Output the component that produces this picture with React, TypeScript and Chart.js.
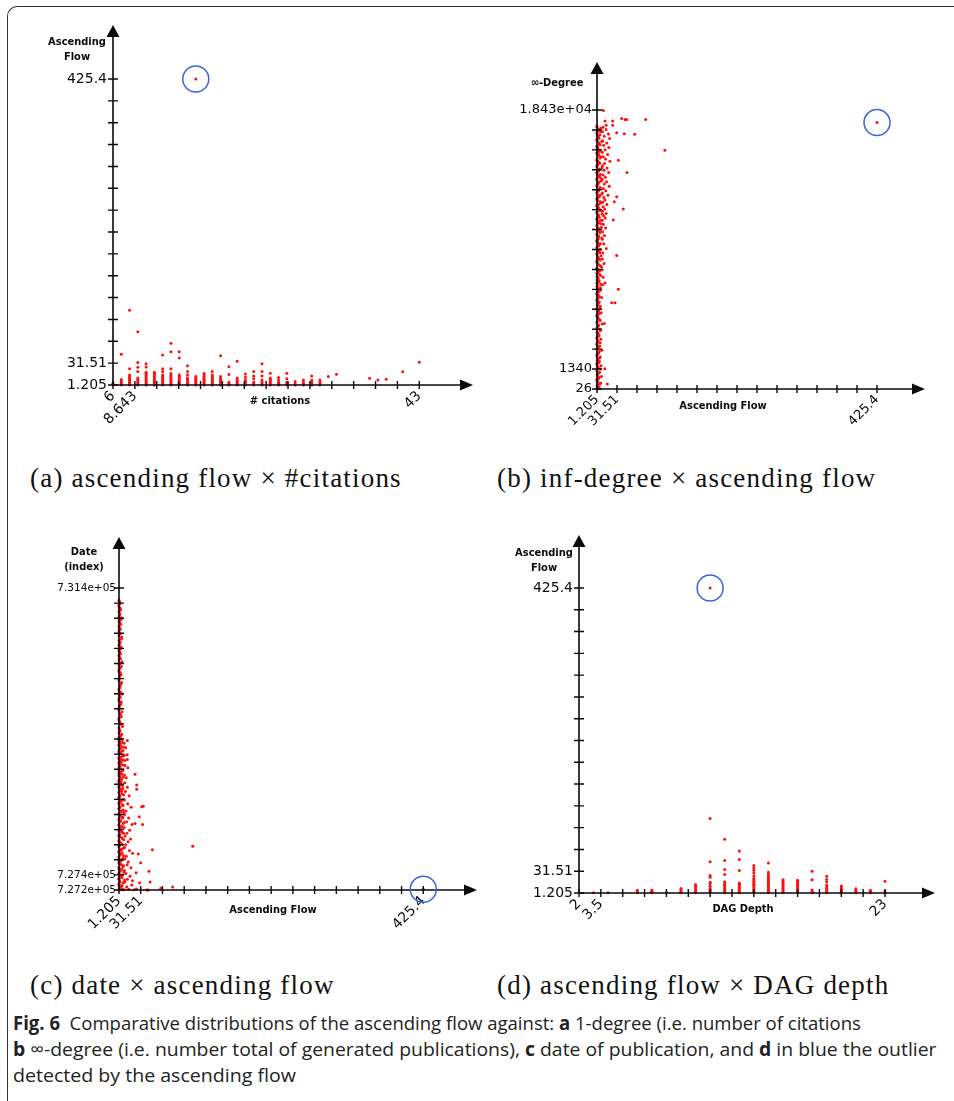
import { useEffect, useRef } from 'react';
import { Chart, registerables } from 'chart.js';

Chart.register(...registerables);

type Pt = [number, number];

// ---------------- Panel (a): ascending flow × #citations ----------------
const citationColumns: [number, number[]][] = [
  [6, [1.2, 2.5, 4]],
  [7, [1.2, 3, 5, 7, 9, 44]],
  [8, [1.2, 3, 5, 7, 9, 11, 13, 15, 23.6, 105]],
  [9, [1.2, 3, 5, 7, 9, 11, 19.8, 25.9, 32.4, 75]],
  [10, [1.2, 3, 5, 7, 9, 11, 13, 15, 17, 19, 26, 30.6]],
  [11, [1.2, 3, 5, 7, 9, 11, 13, 15, 17, 19]],
  [12, [1.2, 3, 5, 7, 9, 11, 13, 15, 19.8, 23.6, 42.7]],
  [13, [1.2, 3, 5, 7, 9, 11, 13, 15, 17, 23.6, 47.3, 59]],
  [14, [1.2, 3, 5, 7, 9, 11, 13, 15, 38.5, 47.3]],
  [15, [1.2, 3, 5, 7, 9, 11, 15.2, 19.8, 27.8]],
  [16, [1.2, 3, 5, 7, 9, 11, 13]],
  [17, [1.2, 3, 5, 7, 9, 11, 13, 15, 17]],
  [18, [1.2, 3, 5, 7, 9, 11, 13, 15.2, 19.8]],
  [19, [1.2, 3, 5, 7, 9, 11, 13, 41.8]],
  [20, [1.2, 3, 5, 15.7, 26.4]],
  [21, [1.2, 3, 5, 7, 9, 11, 34.3]],
  [22, [1.2, 3, 5, 8.2, 12, 16.6]],
  [23, [1.2, 3, 5, 10, 13.8, 19.8]],
  [24, [1.2, 3, 5, 8, 13.8, 19.8, 30.6]],
  [25, [1.2, 3, 5, 7, 9, 11, 17.5]],
  [26, [1.2, 3, 5, 8, 11.5]],
  [27, [1.2, 3, 5, 10, 17.5]],
  [28, [1.2, 3, 5.9]],
  [29, [1.2, 3, 5, 8.2]],
  [30, [1.2, 3, 5, 8, 13.8]],
  [31, [1.2, 3, 5, 8.2]],
  [32, [12.9]],
  [33, [16.1]],
  [37, [10.5]],
  [38, [8.2]],
  [39, [9.1]],
  [41, [19.4]],
  [43, [32.9]],
];
const outlierA: Pt = [16, 425.4];
const citationTickLabels = ['6', '8.643', '43'];
const flowTickLabelsA = ['1.205', '31.51', '425.4'];

// ---------------- Panel (b): inf-degree × ascending flow ----------------
const infDegreeCore: Pt[] = [
  [1.2, 26], [4.5, 150], [2.0, 300], [6.8, 420], [1.2, 560], [3.4, 700], [8.1, 850], [1.6, 1000], [5.2, 1130], [1.2, 1280],
  [3.0, 1420], [7.3, 1560], [1.2, 1700], [4.8, 1850], [2.3, 2000], [6.1, 2140], [1.2, 2290], [3.7, 2430], [8.6, 2580], [1.5, 2720],
  [5.5, 2870], [1.2, 3010], [2.9, 3160], [7.0, 3300], [1.2, 3450], [4.2, 3600], [2.1, 3740], [6.4, 3890], [1.2, 4030], [3.5, 4180],
  [8.9, 4320], [1.4, 4470], [5.0, 4610], [2.6, 4760], [1.2, 4900], [7.6, 5050], [3.9, 5190], [1.2, 5340], [6.0, 5480], [2.2, 5630],
  [4.6, 5770], [1.2, 5920], [8.3, 6060], [3.1, 6210], [1.2, 6350], [5.7, 6500], [2.4, 6640], [1.2, 6790], [7.1, 6930], [4.0, 7080],
  [1.2, 7220], [2.8, 7370], [6.6, 7510], [1.3, 7660], [4.9, 7800], [1.2, 7950], [8.0, 8090], [3.3, 8240], [1.2, 8380], [5.8, 8530],
  [2.0, 8670], [7.4, 8820], [1.2, 8960], [3.8, 9110], [6.2, 9250], [1.2, 9400], [4.4, 9540], [2.5, 9690], [1.2, 9830], [8.5, 9980],
  [3.6, 10120], [1.2, 10270], [5.3, 10410], [2.2, 10560], [7.8, 10700], [1.2, 10850], [4.1, 10990], [6.5, 11140], [1.2, 11280], [2.9, 11430],
  [8.7, 11570], [1.2, 11720], [5.1, 11860], [3.2, 12010], [1.2, 12150], [6.9, 12300], [2.4, 12440], [1.2, 12590], [4.7, 12730], [8.2, 12880],
  [1.2, 13020], [3.5, 13170], [5.9, 13310], [1.2, 13460], [2.7, 13600], [7.5, 13750], [1.2, 13890], [4.3, 14040], [6.3, 14180], [1.2, 14330],
  [3.0, 14470], [8.8, 14620], [1.2, 14760], [5.4, 14910], [2.3, 15050], [1.2, 15200], [7.2, 15340], [3.9, 15490], [1.2, 15630], [6.0, 15780],
  [2.6, 15920], [1.2, 16070], [4.8, 16210], [8.4, 16360], [1.2, 16500], [3.3, 16650], [5.6, 16790], [1.2, 16940], [2.1, 17080], [7.0, 17230],
  [1.2, 17370],
];
const infDegreeCore2: Pt[] = [
  [2.8, 90], [1.2, 230], [5.6, 370], [2.2, 490], [1.2, 630], [4.4, 780], [1.9, 920], [3.2, 1060], [1.2, 1210], [6.2, 1350],
  [2.5, 1490], [1.2, 1630], [3.9, 1780], [1.7, 1920], [5.0, 2070], [1.2, 2210], [2.9, 2360], [4.7, 2500], [1.2, 2650], [3.6, 2790],
  [1.2, 2940], [5.9, 3080], [2.0, 3230], [1.2, 3380], [4.1, 3520], [2.7, 3670], [1.2, 3810], [5.3, 3960], [1.8, 4100], [3.4, 4250],
  [1.2, 4390], [6.0, 4540], [2.4, 4680], [1.2, 4830], [4.5, 4970], [3.0, 5120], [1.2, 5260], [5.7, 5410], [1.6, 5550], [3.7, 5700],
  [1.2, 5840], [2.6, 5990], [4.9, 6130], [1.2, 6280], [3.3, 6420], [1.2, 6570], [6.4, 6710], [2.1, 6860], [1.2, 7000], [4.3, 7150],
  [2.9, 7290], [1.2, 7440], [5.2, 7580], [1.7, 7730], [3.5, 7870], [1.2, 8020], [6.1, 8160], [2.3, 8310], [1.2, 8450], [4.6, 8600],
  [3.1, 8740], [1.2, 8890], [5.5, 9030], [1.9, 9180], [1.2, 9320], [3.8, 9470], [6.3, 9610], [1.2, 9760], [2.7, 9900], [4.2, 10050],
  [1.2, 10190], [5.8, 10340], [1.5, 10480], [3.2, 10630], [1.2, 10770], [6.6, 10920], [2.4, 11060], [1.2, 11210], [4.5, 11350], [3.6, 11500],
  [1.2, 11640], [5.4, 11790], [2.0, 11930], [1.2, 12080], [3.9, 12220], [6.1, 12370], [1.2, 12510], [2.8, 12660], [4.8, 12800], [1.2, 12950],
  [3.3, 13090], [5.6, 13240], [1.2, 13380], [2.2, 13530], [4.0, 13670], [1.2, 13820], [6.5, 13960], [2.6, 14110], [1.2, 14250], [3.7, 14400],
  [5.1, 14540], [1.2, 14690], [2.1, 14830], [4.4, 14980], [1.2, 15120], [6.0, 15270], [3.0, 15410], [1.2, 15560], [4.9, 15700], [2.3, 15850],
  [1.2, 15990], [5.7, 16140], [3.4, 16280], [1.2, 16430], [4.1, 16570], [2.5, 16720], [1.2, 16860], [6.2, 17010], [3.6, 17150], [1.2, 17300],
];
const infDegreeSpread: Pt[] = [
  [10.2, 17300], [14.8, 17150], [9.4, 17000], [18.6, 16850], [12.1, 16700], [20.3, 16550], [9.8, 16400], [15.9, 16250], [11.3, 16100], [19.1, 15950],
  [13.4, 15800], [9.2, 15650], [17.2, 15500], [10.9, 15350], [14.1, 15200], [20.8, 15050], [12.7, 14900], [9.6, 14750], [16.4, 14600], [11.8, 14450],
  [18.9, 14300], [10.4, 14150], [13.9, 14000], [9.1, 13850], [15.6, 13700], [12.3, 13550], [19.7, 13400], [10.7, 13250], [14.5, 13100], [9.3, 12950],
  [17.8, 12800], [11.5, 12650], [13.2, 12500], [9.9, 12350], [16.1, 12200], [10.6, 12050], [12.9, 11900], [9.5, 11750], [15.0, 11600], [11.1, 11450],
  [13.7, 11300], [9.2, 11150], [10.8, 10900], [14.3, 10650], [9.7, 10400], [12.4, 10150], [9.3, 9900], [11.6, 9600], [15.2, 9300], [10.0, 9000],
  [9.4, 8600], [12.0, 8300], [9.1, 7900], [10.5, 7400], [9.6, 6900],
];
const infDegreeScattered: Pt[] = [
  [10.8, 18400], [13.3, 17700], [15.0, 17420], [25, 17700], [25, 17420], [38.6, 17870], [43.6, 17810], [46, 17810], [75, 17810],
  [31, 16930], [42.6, 16870], [58.3, 16830], [104, 15780], [33.5, 15120], [46.7, 14300], [31, 12700], [27.4, 12380], [41, 11900],
  [25.9, 11170], [31, 8830], [13.3, 7010], [33.5, 6600], [23.5, 5720], [28.5, 5720], [12.3, 4340], [13, 1360], [16.8, 355],
];
const outlierB: Pt = [425.4, 17600];
const flowTickLabelsB = ['1.205', '31.51', '425.4'];
const infDegreeTickLabels = ['26', '1340', '1.843e+04'];

// ---------------- Panel (c): date × ascending flow ----------------
const dateTop: Pt[] = [
  [1.2, 731230], [2.6, 731185], [1.2, 731140], [3.4, 731095], [1.9, 731050], [1.2, 731005], [4.1, 730960], [2.3, 730915], [1.2, 730870],
  [3.0, 730825], [1.6, 730780], [1.2, 730735], [4.6, 730690], [2.8, 730645], [1.2, 730600], [3.7, 730555], [2.0, 730510], [1.2, 730465],
  [3.2, 730420], [5.3, 730375], [1.4, 730330], [2.5, 730285], [1.2, 730240], [4.0, 730195], [1.8, 730150], [1.2, 730105], [3.5, 730060],
  [2.2, 730015], [1.2, 729970], [5.6, 729925], [2.9, 729880], [1.2, 729835], [3.9, 729790], [1.5, 729745], [1.2, 729700], [2.7, 729655],
  [4.4, 729610], [1.2, 729565], [3.1, 729520], [6.2, 729475], [1.9, 729430], [1.2, 729385], [3.6, 729340],
  [2.0, 731210], [1.2, 731165], [3.0, 731120], [1.2, 731075], [2.4, 731030], [4.6, 730985], [1.2, 730940], [3.6, 730895], [1.7, 730850],
  [1.2, 730805], [2.9, 730760], [5.0, 730715], [1.2, 730670], [2.2, 730625], [4.2, 730580], [1.2, 730535], [3.3, 730490], [1.6, 730445],
  [1.2, 730400], [2.7, 730355], [4.5, 730310], [1.2, 730265], [3.1, 730220], [2.0, 730175], [1.2, 730130], [4.8, 730085], [2.6, 730040],
  [1.2, 729995], [3.4, 729950], [1.8, 729905], [1.2, 729860], [4.3, 729815], [2.3, 729770], [1.2, 729725], [5.4, 729680], [3.2, 729635],
  [1.2, 729590], [2.1, 729545], [4.7, 729500], [1.2, 729455], [2.8, 729410], [5.1, 729365], [1.2, 729320],
];
const dateMiddle: Pt[] = [
  [1.2, 729300], [5.1, 729285], [2.4, 729260], [8.3, 729240], [1.2, 729220], [4.2, 729200], [10.6, 729180], [2.0, 729160], [6.7, 729140],
  [1.2, 729120], [3.3, 729100], [12.5, 729080], [5.6, 729060], [1.2, 729040], [2.8, 729020], [9.1, 729000], [4.5, 728980], [1.2, 728960],
  [7.4, 728940], [2.2, 728920], [13.5, 728900], [1.2, 728880], [5.9, 728860], [3.6, 728840], [1.2, 728820], [8.8, 728800], [2.5, 728780],
  [11.3, 728760], [4.8, 728740], [1.2, 728720],
  [3.1, 729310], [1.2, 729270], [6.3, 729250], [2.9, 729230], [1.2, 729210], [7.8, 729190], [3.8, 729170], [1.2, 729150], [5.2, 729130],
  [2.1, 729110], [1.2, 729090], [8.6, 729070], [3.0, 729050], [1.2, 729030], [6.1, 729010], [2.4, 728990], [1.2, 728970], [4.0, 728950],
  [9.6, 728930], [1.2, 728910], [3.3, 728890], [6.9, 728870], [1.2, 728850], [2.6, 728830], [5.0, 728810], [1.2, 728790], [7.2, 728770],
  [3.5, 728750], [1.2, 728730], [4.1, 728710],
];
const dateBottom: Pt[] = [
  [1.2, 728700], [3.5, 728675], [6.1, 728650], [1.2, 728625], [2.7, 728600], [4.9, 728575], [1.2, 728550], [7.6, 728525], [2.1, 728500],
  [1.2, 728475], [5.4, 728450], [3.0, 728425], [1.2, 728400], [6.8, 728375], [2.4, 728350], [1.2, 728325], [4.3, 728300], [7.9, 728275],
  [1.2, 728250], [3.2, 728225], [5.8, 728200], [1.2, 728175], [2.6, 728150], [7.1, 728125], [1.2, 728100], [4.6, 728075], [3.4, 728050],
  [1.2, 728025], [6.3, 728000], [2.2, 727975], [1.2, 727950], [5.1, 727925], [7.7, 727900], [1.2, 727875], [3.7, 727850], [2.0, 727825],
  [1.2, 727800], [6.0, 727775], [4.0, 727750], [1.2, 727725], [2.9, 727700], [7.3, 727675], [1.2, 727650], [5.5, 727625], [3.1, 727600],
  [1.2, 727575], [4.7, 727550], [6.6, 727525], [1.2, 727500], [2.5, 727475], [7.9, 727450], [1.2, 727425], [3.9, 727400], [5.2, 727375],
  [1.2, 727350], [2.3, 727325], [6.9, 727300], [1.2, 727275], [4.4, 727250], [3.0, 727225], [1.2, 727200], [5.8, 727210],
  [2.0, 728688], [4.3, 728662], [1.2, 728638], [6.7, 728612], [3.3, 728588], [1.2, 728562], [5.2, 728538], [2.5, 728512], [1.2, 728488],
  [8.1, 728462], [3.8, 728438], [1.2, 728412], [5.9, 728388], [2.2, 728362], [1.2, 728338], [7.0, 728312], [4.1, 728288], [1.2, 728262],
  [2.8, 728238], [6.4, 728212], [1.2, 728188], [3.6, 728162], [8.5, 728138], [1.2, 728112], [5.3, 728088], [2.3, 728062], [1.2, 728038],
  [4.5, 728012], [7.4, 727988], [1.2, 727962], [3.0, 727938], [6.2, 727912], [1.2, 727888], [2.5, 727862], [4.8, 727838], [1.2, 727812],
  [8.3, 727788], [3.4, 727762], [1.2, 727738], [5.6, 727712], [2.2, 727688], [1.2, 727662], [6.9, 727638], [4.2, 727612], [1.2, 727588],
  [3.1, 727562], [7.6, 727538], [1.2, 727512], [5.0, 727488], [2.6, 727462], [1.2, 727438], [6.5, 727412], [3.7, 727388], [1.2, 727362],
  [8.8, 727338], [2.4, 727312], [1.2, 727288], [5.4, 727262], [3.2, 727238], [1.2, 727212],
  [9.2, 728690], [12.8, 728630], [10.1, 728570], [15.4, 728510], [8.6, 728450], [13.3, 728400], [18.2, 728350], [10.9, 728300],
  [9.0, 728250], [14.6, 728200], [11.7, 728150], [19.3, 728110], [8.4, 728070], [16.1, 728030], [12.2, 727990], [9.8, 727950],
  [17.4, 727910], [13.9, 727870], [10.5, 727830], [8.9, 727790], [15.8, 727750], [20.2, 727710], [11.4, 727670], [9.3, 727630],
  [14.1, 727590], [12.6, 727550], [17.9, 727510], [8.7, 727470], [10.8, 727430], [16.5, 727390], [13.0, 727350], [9.6, 727310],
  [19.0, 727270], [11.9, 727240], [14.8, 727210], [8.2, 727205], [22.4, 727205], [25.6, 727215],
];
const dateScattered: Pt[] = [
  [12.8, 729280], [12.8, 729015], [23.5, 728810], [25.9, 728660], [25.9, 728600], [32.8, 728357], [35, 728365], [29.4, 728220],
  [23.5, 728125], [34, 728110], [104, 727810], [47.7, 727760], [28, 727700], [31.4, 727580], [43, 727460], [25, 727440],
  [44.5, 727310], [40, 727200], [42, 727200], [59.4, 727225], [76, 727240], [30, 727300], [20, 727330],
];
const outlierC: Pt = [425.4, 727210];
const flowTickLabelsC = ['1.205', '31.51', '425.4'];
const dateTickLabels = ['7.272e+05', '7.274e+05', '7.314e+05'];

// ---------------- Panel (d): ascending flow × DAG depth ----------------
const depthColumns: [number, number[]][] = [
  [3, [1.5]],
  [4, [1.5]],
  [6, [1.5, 3.5, 5]],
  [7, [1.5, 3.5, 5]],
  [8, [2]],
  [9, [1.5, 3.5, 5.5, 7.5]],
  [10, [1.5, 3.5, 5.5, 8, 10.5, 13]],
  [11, [1.5, 3.5, 5.5, 7.5, 10.5, 14, 16, 23, 25.4, 44.5, 104.7]],
  [12, [1.5, 3.5, 5.5, 7.5, 9.5, 11.5, 13.5, 15.5, 17, 26.8, 33.8, 46.4, 75.8]],
  [13, [1.5, 3.5, 5.5, 7.5, 9.5, 11.5, 13.5, 15, 32.4, 47.8, 59.5]],
  [14, [1.5, 3.5, 5.5, 7.5, 9.5, 11.5, 13.5, 15.5, 17.5, 19.5, 21.5, 25, 29, 33, 36, 39.4]],
  [15, [1.5, 3.5, 5.5, 7.5, 9.5, 11.5, 13.5, 15.5, 17.5, 19.5, 21.5, 24, 27, 30, 43.1]],
  [16, [1.5, 3.5, 5.5, 7.5, 9.5, 11.5, 13.5, 15.5, 17.5, 19.5]],
  [17, [1.5, 3.5, 5.5, 7.5, 9.5, 11.5, 13.5, 15.5, 17.5, 19]],
  [18, [1.5, 3.5, 5.5, 19.8, 31.5]],
  [19, [1.5, 3.5, 5.5, 7.5, 9.5, 12, 16.5, 20, 24.5]],
  [20, [1.5, 3.5, 5.5, 7.5, 9.5, 11]],
  [21, [1.5, 3.5, 5.5, 7]],
  [22, [1.5, 3.5, 5]],
  [23, [1.5, 4, 17.5]],
];
const outlierD: Pt = [11, 425.4];
const depthTickLabels = ['2', '3.5', '23'];
const flowTickLabelsD = ['1.205', '31.51', '425.4'];

// ---------------- layout / styling ----------------
interface AxisSpec {
  first: number; last: number; n: number; lastPx: number;
  labels: string[]; font: number; pad: number; title: string[]; titleAt: [number, number];
}
interface PanelSpec {
  box: [number, number, number, number];
  origin: [number, number];
  tip: [number, number];
  x: AxisSpec; y: AxisSpec;
  points: Pt[]; outlier: Pt;
}

const fromColumns = (cols: [number, number[]][]): Pt[] =>
  cols.flatMap(([c, ys]) => ys.map((v) => [c, v] as Pt));

const panels: PanelSpec[] = [
  {
    box: [10, 0, 475, 455], origin: [113, 385], tip: [473, 25],
    x: { first: 6, last: 43, n: 14, lastPx: 419.3, labels: citationTickLabels, font: 14, pad: 3, title: ['# citations'], titleAt: [280, 401] },
    y: { first: 1.205, last: 425.4, n: 14, lastPx: 79, labels: flowTickLabelsA, font: 14, pad: 6, title: ['Ascending', 'Flow'], titleAt: [77, 42] },
    points: fromColumns(citationColumns), outlier: outlierA,
  },
  {
    box: [490, 30, 455, 425], origin: [597, 389], tip: [925, 62],
    x: { first: 1.205, last: 425.4, n: 14, lastPx: 877, labels: flowTickLabelsB, font: 13, pad: 3, title: ['Ascending Flow'], titleAt: [723, 406] },
    y: { first: 26, last: 18430, n: 14, lastPx: 110, labels: infDegreeTickLabels, font: 13, pad: 5, title: ['∞-Degree'], titleAt: [557, 83] },
    points: [...infDegreeCore, ...infDegreeCore2, ...infDegreeSpread, ...infDegreeScattered], outlier: outlierB,
  },
  {
    box: [10, 505, 480, 445], origin: [119, 890], tip: [477, 537],
    x: { first: 1.205, last: 425.4, n: 14, lastPx: 423.3, labels: flowTickLabelsC, font: 14, pad: 3, title: ['Ascending Flow'], titleAt: [273, 910] },
    y: { first: 727200, last: 731400, n: 20, lastPx: 588, labels: dateTickLabels, font: 10.5, pad: 3, title: ['Date', '(index)'], titleAt: [84, 552] },
    points: [...dateTop, ...dateMiddle, ...dateBottom, ...dateScattered], outlier: outlierC,
  },
  {
    box: [490, 505, 462, 445], origin: [579, 893], tip: [935, 535],
    x: { first: 2, last: 23, n: 14, lastPx: 885, labels: depthTickLabels, font: 14, pad: 3, title: ['DAG Depth'], titleAt: [743, 909] },
    y: { first: 1.205, last: 425.4, n: 14, lastPx: 588, labels: flowTickLabelsD, font: 14, pad: 6, title: ['Ascending', 'Flow'], titleAt: [544, 553] },
    points: fromColumns(depthColumns), outlier: outlierD,
  },
];

const INK = '#0a0a0a';
const RED = '#ff1010';
const BLUE = '#3f63dc';
const TICK_FONT = '"DejaVu Sans", sans-serif';
const TITLE_FONT = 'bold 11px "DejaVu Sans Condensed", "DejaVu Sans", sans-serif';

function makeAxesPlugin(spec: PanelSpec) {
  return {
    id: 'mathAxes',
    afterDatasetsDraw(chart: any) {
      const { ctx, chartArea: ca } = chart;
      const xs = chart.scales.x;
      const ys = chart.scales.y;
      const ox = ca.left;
      const oy = ca.bottom;
      ctx.save();
      ctx.strokeStyle = INK;
      ctx.fillStyle = INK;
      ctx.lineWidth = 1.6;
      ctx.beginPath();
      ctx.moveTo(ox, oy);
      ctx.lineTo(ca.right - 8, oy);
      ctx.moveTo(ox, oy);
      ctx.lineTo(ox, ca.top + 8);
      ctx.stroke();
      // arrow heads
      ctx.beginPath();
      ctx.moveTo(ca.right, oy);
      ctx.lineTo(ca.right - 13, oy - 5.5);
      ctx.lineTo(ca.right - 13, oy + 5.5);
      ctx.closePath();
      ctx.fill();
      ctx.beginPath();
      ctx.moveTo(ox, ca.top);
      ctx.lineTo(ox - 6.5, ca.top + 12);
      ctx.lineTo(ox + 6.5, ca.top + 12);
      ctx.closePath();
      ctx.fill();
      // tick marks crossing the axes
      ctx.lineWidth = 1.4;
      ctx.beginPath();
      xs.ticks.forEach((t: any) => {
        const px = xs.getPixelForValue(t.value);
        ctx.moveTo(px, oy - 4);
        ctx.lineTo(px, oy + 4);
      });
      ys.ticks.forEach((t: any) => {
        const py = ys.getPixelForValue(t.value);
        ctx.moveTo(ox - 5, py);
        ctx.lineTo(ox + 5, py);
      });
      ctx.stroke();
      // outlier circle
      const cx = xs.getPixelForValue(spec.outlier[0]);
      const cy = ys.getPixelForValue(spec.outlier[1]);
      ctx.strokeStyle = BLUE;
      ctx.lineWidth = 1.5;
      ctx.beginPath();
      ctx.arc(cx, cy, 13, 0, Math.PI * 2);
      ctx.stroke();
      // axis titles
      ctx.fillStyle = INK;
      ctx.font = TITLE_FONT;
      ctx.textAlign = 'center';
      ctx.textBaseline = 'middle';
      const [bl, bt] = spec.box;
      spec.y.title.forEach((line, i) =>
        ctx.fillText(line, spec.y.titleAt[0] - bl, spec.y.titleAt[1] - bt + i * 15.5));
      spec.x.title.forEach((line, i) =>
        ctx.fillText(line, spec.x.titleAt[0] - bl, spec.x.titleAt[1] - bt + i * 15.5));
      ctx.restore();
    },
  };
}

function axisOptions(a: AxisSpec, originPx: number, tipPx: number, horizontal: boolean, spec: PanelSpec) {
  const step = (a.last - a.first) / a.n;
  const max = a.first + (a.last - a.first) * (tipPx - originPx) / (a.lastPx - originPx);
  const [bl, bt, , bh] = spec.box;
  return {
    type: 'linear' as const,
    position: horizontal ? ('bottom' as const) : ('left' as const),
    min: a.first,
    max,
    grid: { display: false, drawTicks: false, tickLength: 0 },
    border: { display: false },
    afterBuildTicks: (scale: any) => {
      scale.ticks = Array.from({ length: a.n + 1 }, (_, k) => ({ value: a.first + k * step }));
    },
    afterFit: (scale: any) => {
      if (horizontal) scale.height = bt + bh - spec.origin[1];
      else scale.width = spec.origin[0] - bl;
    },
    ticks: {
      autoSkip: false,
      minRotation: horizontal ? 45 : 0,
      maxRotation: horizontal ? 45 : 0,
      padding: a.pad,
      color: INK,
      font: { family: TICK_FONT, size: a.font },
      callback: (_v: any, i: number, arr: any[]) =>
        i === 0 ? a.labels[0] : i === 1 ? a.labels[1] : i === arr.length - 1 ? a.labels[2] : '',
    },
  };
}

function Panel({ spec }: { spec: PanelSpec }) {
  const ref = useRef<HTMLCanvasElement>(null);
  useEffect(() => {
    const [bl, bt, bw] = spec.box;
    const chart = new Chart(ref.current as HTMLCanvasElement, {
      type: 'scatter',
      data: {
        datasets: [
          {
            data: [...spec.points, spec.outlier].map(([x, y]) => ({ x, y })),
            backgroundColor: RED,
            borderWidth: 0,
            pointRadius: 1.5,
            pointHoverRadius: 1.5,
            clip: false as any,
          },
        ],
      },
      options: {
        animation: false,
        responsive: false,
        maintainAspectRatio: false,
        events: [],
        layout: {
          padding: {
            left: 0,
            bottom: 0,
            top: spec.tip[1] - bt,
            right: bl + bw - spec.tip[0],
          },
        },
        plugins: { legend: { display: false }, tooltip: { enabled: false } },
        scales: {
          x: axisOptions(spec.x, spec.origin[0], spec.tip[0], true, spec) as any,
          y: axisOptions(spec.y, spec.origin[1], spec.tip[1], false, spec) as any,
        },
      },
      plugins: [makeAxesPlugin(spec)],
    });
    return () => chart.destroy();
  }, [spec]);
  const [bl, bt, bw, bh] = spec.box;
  return (
    <canvas
      ref={ref}
      width={bw}
      height={bh}
      style={{ position: 'absolute', left: bl, top: bt, width: bw, height: bh }}
    />
  );
}

const subCaptions: { text: string; left: number; top: number }[] = [
  { text: '(a) ascending flow × #citations', left: 30, top: 462 },
  { text: '(b) inf-degree × ascending flow', left: 497, top: 462 },
  { text: '(c) date × ascending flow', left: 30, top: 969 },
  { text: '(d) ascending flow × DAG depth', left: 497, top: 969 },
];

export default function App() {
  const capLine: React.CSSProperties = {
    position: 'absolute',
    left: 13,
    whiteSpace: 'nowrap',
    fontFamily: '"Open Sans", sans-serif',
    fontSize: 19,
    lineHeight: '26px',
    color: '#222',
    transformOrigin: 'left center',
  };
  return (
    <div
      style={{
        position: 'absolute',
        left: 0,
        top: 0,
        width: 954,
        height: 1101,
        background: '#fff',
        overflow: 'hidden',
      }}
    >
      <div
        style={{
          position: 'absolute',
          left: 7,
          top: 6,
          width: 1000,
          height: 1200,
          borderTop: '1.5px solid #333',
          borderLeft: '1.5px solid #333',
          borderTopLeftRadius: 10,
        }}
      />
      {panels.map((p, i) => (
        <Panel key={i} spec={p} />
      ))}
      {subCaptions.map((c, i) => (
        <div
          key={i}
          style={{
            position: 'absolute',
            left: c.left,
            top: c.top,
            whiteSpace: 'nowrap',
            fontFamily: '"Liberation Serif", serif',
            fontSize: 27,
            lineHeight: '32px',
            letterSpacing: '1.2px',
            color: '#111',
          }}
        >
          {c.text}
        </div>
      ))}
      <div style={{ ...capLine, top: 1010, transform: 'scaleX(0.975)' }}>
        <b>Fig. 6</b>&nbsp; Comparative distributions of the ascending flow against: <b>a</b> 1-degree (i.e. number of citations
      </div>
      <div style={{ ...capLine, top: 1036, transform: 'scaleX(1.02)' }}>
        <b>b</b> ∞-degree (i.e. number total of generated publications), <b>c</b> date of publication, and <b>d</b> in blue the outlier
      </div>
      <div style={{ ...capLine, top: 1062, transform: 'scaleX(1.03)' }}>detected by the ascending flow</div>
    </div>
  );
}
